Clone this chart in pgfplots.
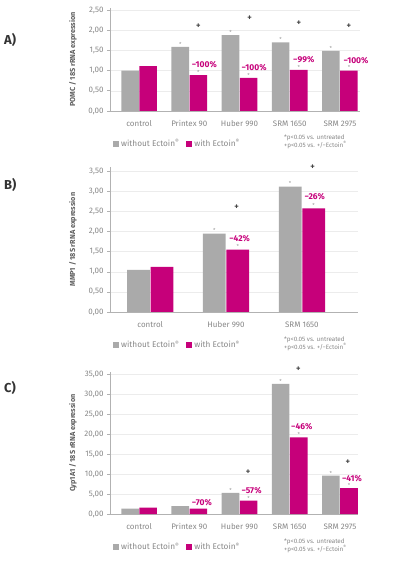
\documentclass[border=0pt]{standalone}
\usepackage{fontspec}
\setmainfont{Fira Sans}
\usepackage{pgfplots}
\pgfplotsset{compat=1.18}
\definecolor{bargray}{RGB}{170,170,170}
\definecolor{barmag}{RGB}{198,0,122}
\definecolor{txtgray}{RGB}{135,135,135}
\definecolor{labgray}{RGB}{95,95,95}
\definecolor{plusgray}{RGB}{70,70,70}
\pgfplotsset{
 panel/.style={
  scale only axis, anchor=south west,
  axis x line*=bottom, axis y line*=left,
  axis line style={draw=gray!60, line width=0.6pt},
  ymin=0, enlargelimits=false, clip=false,
  ymajorgrids, grid style={gray!15, line width=0.5pt},
  ytick style={draw=gray!60, line width=0.6pt}, tick align=outside, major tick length=3bp,
  xtick style={draw=none},
  ticklabel style={font=\fontsize{8}{9}\selectfont, text=txtgray},
  xticklabel style={yshift=-3bp},
  yticklabel style={/pgf/number format/.cd, fixed, fixed zerofill, precision=2, use comma},
  /pgf/number format/assume math mode=true,
  ylabel style={font=\bfseries\fontsize{7.3}{8}\selectfont, text=labgray, anchor=center},
  legend style={draw=none, fill=none, legend columns=2, font=\fontsize{8.3}{10}\selectfont, text=txtgray, anchor=west,
    /tikz/every even column/.append style={column sep=5bp}},
  legend image code/.code={\path[#1,draw=none] (0bp,-3bp) rectangle (6bp,3bp);},
 },
}
\newcommand{\sig}[2]{\node[font=\fontsize{5.5}{5.5}\selectfont, text=gray!80, anchor=south, inner sep=0.5bp] at (axis cs:#1,#2) {*};}
\newcommand{\plusm}[2]{\node[font=\bfseries\fontsize{8.5}{9}\selectfont, text=plusgray, inner sep=0] at (axis cs:#1,#2) {+};}
\newcommand{\pct}[3]{\node[font=\bfseries\fontsize{8.5}{9}\selectfont, text=barmag, inner sep=0] at (axis cs:#1,#2) {#3};}
\newcommand{\note}{\node[anchor=north west, align=left, font=\fontsize{6.3}{7.6}\selectfont, text=txtgray, inner sep=0]}
\newcommand{\Ect}{Ectoin\textsuperscript{®}}
\begin{document}
\begin{tikzpicture}
\path[use as bounding box] (0,0) rectangle (396bp,562bp);
% ---------- A ----------
\begin{axis}[panel, at={(110bp,451bp)}, width=250bp, height=103bp,
  xmin=-0.58, xmax=4.40, ymax=2.55, ytick={0,0.5,1,1.5,2,2.5},
  xtick={0,1,2,3,4}, xticklabels={control, Printex 90, Huber 990, SRM 1650, SRM 2975},
  ylabel={POMC / 18S rRNA expression}, ylabel style={at={(axis description cs:-0.148,0.5)}},
  legend style={at={(axis description cs:0,-0.32)}}]
\addplot[ybar, bar width=0.35, bar shift=-0.18, fill=bargray, draw=none]
  coordinates {(0,1.00) (1,1.59) (2,1.88) (3,1.70) (4,1.49)};
\addplot[ybar, bar width=0.35, bar shift=0.18, fill=barmag, draw=none]
  coordinates {(0,1.11) (1,0.89) (2,0.82) (3,1.02) (4,1.00)};
\legend{without \Ect, with \Ect}
\sig{0.82}{1.59}\sig{1.18}{0.89}
\sig{1.82}{1.88}\sig{2.18}{0.82}
\sig{2.82}{1.70}\sig{3.18}{1.02}
\sig{3.82}{1.49}\sig{4.18}{1.00}
\plusm{1.18}{2.10}\plusm{2.2}{2.30}\plusm{3.18}{2.17}\plusm{4.18}{2.10}
\pct{1.30}{1.15}{−100\%}
\pct{2.29}{1.08}{−100\%}
\pct{3.28}{1.27}{−99\%}
\pct{4.32}{1.25}{−100\%}
\end{axis}
\note at (284bp,427bp) {*p<0.05 vs. untreated\\+p<0.05 vs. +/−\Ect};
\node[anchor=west, font=\bfseries\fontsize{13}{14}\selectfont, text=black!80, inner sep=0] at (4bp,522bp) {A)};
% ---------- B ----------
\begin{axis}[panel, at={(110bp,250bp)}, width=248bp, height=144.7bp,
  xmin=-0.53, xmax=2.74, ymax=3.6, ytick={0,0.5,1,1.5,2,2.5,3,3.5},
  xtick={0,1,2}, xticklabels={control, Huber 990, SRM 1650},
  ylabel={MMP1 / 18S rRNA expression}, ylabel style={at={(axis description cs:-0.149,0.5)}},
  legend style={at={(axis description cs:0,-0.228)}}]
\addplot[ybar, bar width=0.30, bar shift=-0.155, fill=bargray, draw=none]
  coordinates {(0,1.05) (1,1.95) (2,3.12)};
\addplot[ybar, bar width=0.30, bar shift=0.155, fill=barmag, draw=none]
  coordinates {(0,1.12) (1,1.55) (2,2.58)};
\legend{without \Ect, with \Ect}
\sig{0.845}{1.95}\sig{1.155}{1.55}
\sig{1.845}{3.12}\sig{2.155}{2.58}
\plusm{1.14}{2.60}\plusm{2.14}{3.60}
\pct{1.18}{1.83}{−42\%}
\pct{2.17}{2.86}{−26\%}
\end{axis}
\note at (284bp,225bp) {*p<0.05 vs. untreated\\+p<0.05 vs. +/−\Ect};
\node[anchor=west, font=\bfseries\fontsize{13}{14}\selectfont, text=black!80, inner sep=0] at (4bp,377bp) {B)};
% ---------- C ----------
\begin{axis}[panel, at={(110bp,48bp)}, width=248bp, height=141.6bp,
  xmin=-0.58, xmax=4.36, ymax=35.5, ytick={0,5,10,15,20,25,30,35},
  xtick={0,1,2,3,4}, xticklabels={control, Printex 90, Huber 990, SRM 1650, SRM 2975},
  ylabel={Cyp1A1 / 18S rRNA expression}, ylabel style={at={(axis description cs:-0.149,0.5)}},
  legend style={at={(axis description cs:0,-0.234)}}]
\addplot[ybar, bar width=0.35, bar shift=-0.18, fill=bargray, draw=none]
  coordinates {(0,1.33) (1,2.0) (2,5.3) (3,32.6) (4,9.6)};
\addplot[ybar, bar width=0.35, bar shift=0.18, fill=barmag, draw=none]
  coordinates {(0,1.58) (1,1.33) (2,3.33) (3,19.2) (4,6.5)};
\legend{without \Ect, with \Ect}
\sig{1.82}{5.3}\sig{2.18}{3.33}
\sig{2.82}{32.6}\sig{3.18}{19.2}
\sig{3.82}{9.6}\sig{4.18}{6.5}
\plusm{2.17}{10.6}\plusm{3.17}{36.4}\plusm{4.16}{13.1}
\pct{1.25}{2.9}{−70\%}
\pct{2.24}{5.8}{−57\%}
\pct{3.24}{21.8}{−46\%}
\pct{4.24}{8.9}{−41\%}
\end{axis}
\note at (284bp,23bp) {*p<0.05 vs. untreated\\+p<0.05 vs. +/−\Ect};
\node[anchor=west, font=\bfseries\fontsize{13}{14}\selectfont, text=black!80, inner sep=0] at (4bp,174bp) {C)};
\end{tikzpicture}
\end{document}
